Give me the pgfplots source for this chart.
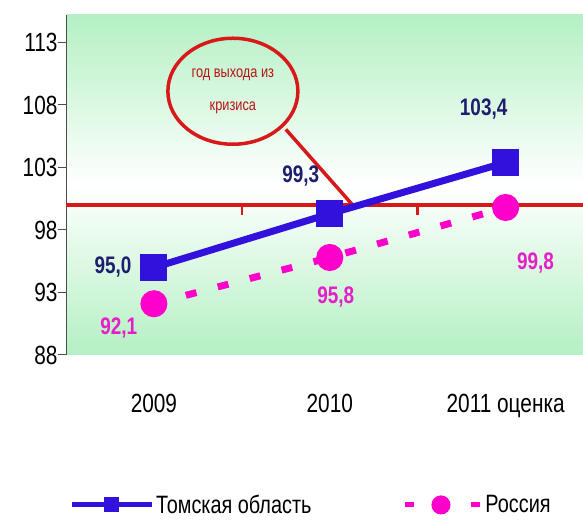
\documentclass[border=0pt]{standalone}
\usepackage{graphicx}
\usepackage{pgfplots}
\pgfplotsset{compat=1.18}
\usepackage{fontspec}
\setmainfont{Liberation Sans}
\newcommand\st[1]{\scalebox{0.95}[1.2]{#1}}
\definecolor{tblue}{RGB}{51,17,221}
\definecolor{tlab}{RGB}{30,30,110}
\definecolor{rmag}{RGB}{255,0,204}
\definecolor{rlab}{RGB}{230,30,200}
\definecolor{crisisred}{RGB}{215,25,25}
\definecolor{bggreen}{RGB}{180,240,195}
\begin{document}
\begin{tikzpicture}[x=1bp,y=1bp]
\useasboundingbox (0,0) rectangle (583,529);
\begin{axis}[at={(66bp,174bp)}, anchor=south west, scale only axis,
  width=517bp, height=340bp,
  xmin=-0.5, xmax=2.44, ymin=88, ymax=115.2,
  axis y line*=left, axis x line*=bottom,
  x axis line style={draw=none},
  xtick={0,1,2}, xticklabels={\st{2009},\st{2010},\st{2011 оценка}},
  x tick style={draw=none},
  ytick={88,93,...,113},
  yticklabel={\st{\pgfmathprintnumber{\tick}}},
  /pgf/number format/assume math mode=true,
  tick align=outside, major tick length=8bp,
  y axis line style={draw=black!70, line width=1bp},
  y tick style={draw=black!70, line width=1bp},
  ticklabel style={font=\fontsize{22}{24}\selectfont},
  yticklabel style={xshift=3bp},
  xticklabel style={yshift=-28bp},
  axis background/.style={top color=bggreen, bottom color=bggreen, middle color=white},
  clip=false,
  legend columns=2,
  legend cell align=left,
  legend style={at={(0,-0.441)}, anchor=west, draw=none, fill=none,
    font=\fontsize{21}{24}\selectfont,
    /tikz/every even column/.append style={column sep=85bp}},
  legend image code/.code={\draw[mark repeat=2,mark phase=2,#1] plot coordinates {(0bp,0bp) (40bp,0bp) (80bp,0bp)};},
]
% crisis line
\addplot[crisisred, line width=4bp, forget plot] coordinates {(-0.5,100) (2.44,100)};
\draw[crisisred, line width=2.5bp] (axis cs:0.5,100) -- ([yshift=-10bp]axis cs:0.5,100);
\draw[crisisred, line width=2.5bp] (axis cs:1.5,100) -- ([yshift=-10bp]axis cs:1.5,100);
% callout
\draw[crisisred, line width=3.5bp] (axis cs:0.449,109.1) ellipse [x radius=65bp, y radius=53bp];
\draw[crisisred, line width=3.5bp] (axis cs:0.75,106.05) -- (axis cs:1.13,100.0);
\node[crisisred!85!black, font=\fontsize{13.5}{33}\selectfont, align=center] at (axis cs:0.449,109.1) {\st{год выхода из}\\\st{кризиса}};
% data
\addplot[rmag, line width=7bp, dash pattern=on 11bp off 22bp, mark=*, mark size=10bp, mark options={solid}, forget plot] coordinates {(0,92.1) (1,95.8) (2,99.8)};
\addplot[tblue, line width=7bp, mark=square*, mark size=10bp, forget plot] coordinates {(0,95.0) (1,99.3) (2,103.4)};
% legend images
\addlegendimage{tblue, line width=5bp, mark=square*, mark size=5bp}
\addlegendentry{\st{Томская область}}
\addlegendimage{rmag, line width=5bp, dash pattern=on 9bp off 24bp, dash phase=-4bp, mark=*, mark size=7bp, mark options={solid}}
\addlegendentry{\st{Россия}}
% labels
\begin{scope}[font=\bfseries\fontsize{20}{22}\selectfont]
\node[tlab] at (axis cs:-0.233,95.0) {\st{95,0}};
\node[tlab] at (axis cs:0.835,102.3) {\st{99,3}};
\node[tlab] at (axis cs:1.875,107.7) {\st{103,4}};
\node[rlab] at (axis cs:-0.2,90.15) {\st{92,1}};
\node[rlab] at (axis cs:1.034,92.6) {\st{95,8}};
\node[rlab] at (axis cs:2.17,95.35) {\st{99,8}};
\end{scope}
\end{axis}
\end{tikzpicture}
\end{document}
